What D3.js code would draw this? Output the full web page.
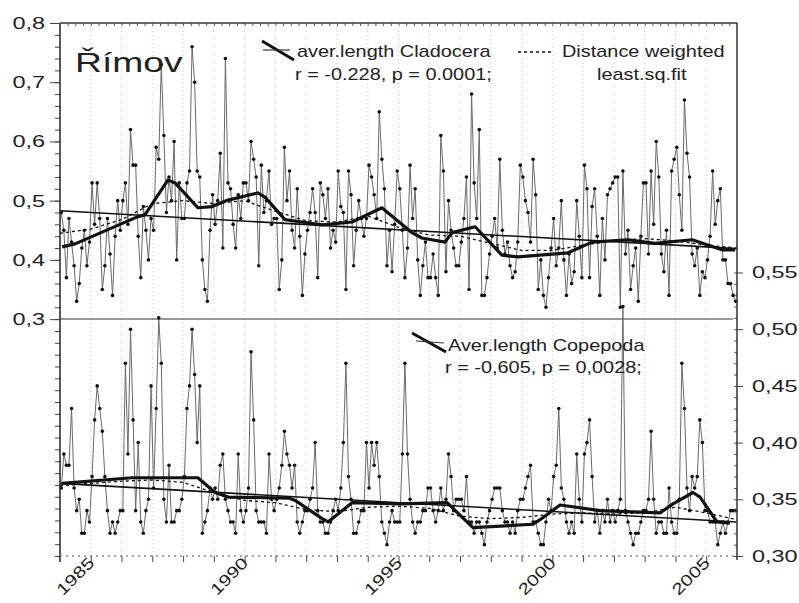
<!DOCTYPE html>
<html>
<head>
<meta charset="utf-8">
<script src="https://cdn.jsdelivr.net/npm/d3@7"></script>
<style>
  body { margin: 0; background: #fff; }
  svg { display: block; }
  text { font-family: "Liberation Sans", Arial, sans-serif; fill: #222; }
</style>
</head>
<body>
<svg id="chart" width="799" height="603"></svg>
<script>
// ---- data -------------------------------------------------------------
// one sample per month, January..December of every year
const sampleYears = [1984,1985,1986,1987,1988,1989,1990,1991,1992,1993,1994,
                     1995,1996,1997,1998,1999,2000,2001,2002,2003,2004,2005];
const samplesPerYear = 12;

// average body length of Cladocera (mm), left axis
const cladoceraLength = [
  0.48,0.45,0.37,0.47,0.43,0.39,0.33,0.36,0.42,0.45,0.39,0.43,
  0.53,0.46,0.53,0.47,0.35,0.39,0.47,0.41,0.34,0.44,0.50,0.45,
  0.50,0.53,0.46,0.62,0.56,0.56,0.44,0.37,0.49,0.45,0.40,0.47,
  0.45,0.59,0.57,0.73,0.61,0.48,0.54,0.50,0.60,0.40,0.53,0.47,
  0.47,0.53,0.55,0.76,0.70,0.55,0.54,0.40,0.35,0.33,0.45,0.51,
  0.46,0.50,0.58,0.42,0.74,0.53,0.52,0.46,0.42,0.51,0.47,0.53,
  0.53,0.50,0.60,0.57,0.54,0.39,0.56,0.48,0.50,0.55,0.46,0.47,
  0.47,0.35,0.40,0.59,0.50,0.55,0.45,0.42,0.52,0.44,0.34,0.41,
  0.45,0.48,0.52,0.48,0.37,0.53,0.51,0.47,0.52,0.42,0.45,0.43,
  0.55,0.49,0.48,0.35,0.55,0.51,0.39,0.45,0.50,0.47,0.44,0.47,
  0.56,0.54,0.51,0.47,0.65,0.57,0.52,0.39,0.45,0.38,0.46,0.55,
  0.52,0.45,0.37,0.42,0.56,0.47,0.52,0.40,0.34,0.39,0.43,0.37,
  0.37,0.41,0.37,0.34,0.61,0.55,0.38,0.50,0.45,0.42,0.39,0.39,
  0.43,0.47,0.54,0.35,0.68,0.53,0.47,0.62,0.34,0.34,0.37,0.41,
  0.44,0.47,0.42,0.57,0.45,0.41,0.43,0.39,0.37,0.38,0.43,0.56,
  0.54,0.50,0.48,0.43,0.57,0.51,0.35,0.40,0.34,0.32,0.37,0.42,
  0.47,0.39,0.42,0.50,0.40,0.34,0.41,0.36,0.38,0.50,0.44,0.37,
  0.56,0.52,0.37,0.49,0.52,0.44,0.34,0.47,0.40,0.51,0.52,0.53,
  0.54,0.54,0.32,0.55,0.41,0.45,0.35,0.39,0.42,0.33,0.44,0.53,
  0.53,0.41,0.55,0.46,0.60,0.54,0.41,0.38,0.45,0.34,0.55,0.57,
  0.59,0.51,0.45,0.67,0.58,0.54,0.41,0.39,0.42,0.34,0.38,0.37,
  0.40,0.44,0.55,0.46,0.50,0.52,0.40,0.40,0.36,0.36,0.34,0.33
];

// average body length of Copepoda (mm), right axis
const copepodaLength = [
  0.36,0.39,0.38,0.38,0.43,0.36,0.34,0.35,0.32,0.32,0.34,0.33,
  0.37,0.42,0.45,0.43,0.41,0.37,0.34,0.32,0.33,0.32,0.33,0.34,
  0.34,0.47,0.39,0.50,0.42,0.34,0.40,0.33,0.32,0.34,0.35,0.45,
  0.36,0.43,0.51,0.47,0.35,0.33,0.38,0.33,0.33,0.34,0.34,0.35,
  0.37,0.43,0.45,0.50,0.46,0.40,0.45,0.32,0.33,0.34,0.36,0.35,
  0.36,0.35,0.38,0.39,0.35,0.34,0.33,0.33,0.32,0.39,0.34,0.33,
  0.34,0.36,0.48,0.42,0.34,0.33,0.33,0.33,0.32,0.39,0.35,0.34,
  0.35,0.36,0.38,0.41,0.39,0.38,0.36,0.38,0.33,0.32,0.33,0.34,
  0.34,0.35,0.36,0.40,0.34,0.33,0.33,0.32,0.32,0.33,0.34,0.35,
  0.34,0.36,0.40,0.47,0.37,0.35,0.32,0.32,0.33,0.34,0.34,0.40,
  0.36,0.40,0.38,0.40,0.37,0.33,0.32,0.31,0.33,0.34,0.33,0.33,
  0.33,0.39,0.47,0.39,0.35,0.33,0.32,0.33,0.33,0.34,0.34,0.36,
  0.36,0.34,0.33,0.34,0.36,0.34,0.35,0.39,0.37,0.34,0.35,0.35,
  0.35,0.34,0.37,0.33,0.33,0.32,0.33,0.33,0.32,0.31,0.33,0.34,
  0.35,0.36,0.36,0.36,0.34,0.33,0.33,0.32,0.33,0.32,0.34,0.35,
  0.35,0.36,0.37,0.38,0.33,0.33,0.32,0.31,0.31,0.33,0.35,0.34,
  0.37,0.38,0.43,0.36,0.35,0.33,0.32,0.33,0.32,0.39,0.35,0.33,
  0.39,0.40,0.42,0.37,0.33,0.34,0.32,0.34,0.33,0.35,0.33,0.34,
  0.33,0.34,0.35,0.52,0.34,0.33,0.32,0.31,0.32,0.32,0.33,0.34,
  0.34,0.35,0.41,0.35,0.32,0.33,0.33,0.32,0.32,0.36,0.33,0.32,
  0.32,0.35,0.47,0.43,0.36,0.34,0.37,0.36,0.37,0.42,0.40,0.34,
  0.34,0.33,0.33,0.33,0.31,0.32,0.33,0.32,0.33,0.34,0.34,0.34
];

// running mean (thick line)
const cladoSmoothYears = [1984.07,1984.49,1986.53,1986.76,1987.51,1987.74,1988.48,1988.94,1989.46,
  1990.43,1990.66,1991.31,1991.86,1992.51,1993.49,1994.46,1995.44,1995.76,1996.51,1996.74,1997.49,
  1998.36,1998.88,2000.51,2001.29,2002.46,2003.34,2004.54,2005.51,2005.94];
const cladoSmoothValues = [0.422,0.427,0.473,0.476,0.535,0.530,0.488,0.490,0.501,
  0.513,0.506,0.468,0.464,0.459,0.464,0.488,0.446,0.437,0.430,0.446,0.456,
  0.408,0.405,0.412,0.430,0.434,0.428,0.434,0.417,0.417];

const copeSmoothYears = [1984.07,1986.34,1988.48,1989.04,1989.46,1991.47,1991.64,1992.52,1992.71,
  1993.49,1995.11,1996.58,1997.42,1999.37,1999.60,2000.25,2001.55,2003.50,2003.92,2004.57,
  2004.80,2005.35,2005.77];
const copeSmoothValues = [0.364,0.369,0.369,0.356,0.352,0.351,0.349,0.333,0.330,
  0.347,0.346,0.347,0.325,0.328,0.332,0.345,0.340,0.338,0.346,0.356,
  0.352,0.330,0.329];

// distance weighted least squares fit (dotted)
const dwlsYears = [1984,1985,1986,1987,1988,1989,1990,1991,1992,1993,1994,1995,
                   1996,1997,1998,1999,2000,2001,2002,2003,2004,2005,2006];
const cladoDwls = [0.445,0.452,0.468,0.495,0.500,0.495,0.500,0.482,0.466,0.464,0.474,0.455,
                   0.442,0.440,0.428,0.416,0.416,0.425,0.432,0.436,0.432,0.425,0.420];
const copeDwls  = [0.362,0.364,0.366,0.367,0.365,0.356,0.349,0.347,0.341,0.339,0.343,0.344,
                   0.342,0.335,0.333,0.334,0.337,0.338,0.337,0.338,0.343,0.338,0.332];

// linear trends
const trendYears = [1984, 2006];
const cladoTrend = [0.483, 0.419];
const copeTrend  = [0.364, 0.330];

// axis ticks
const leftTicks  = [0.3, 0.4, 0.5, 0.6, 0.7, 0.8];
const rightTicks = [0.30, 0.35, 0.40, 0.45, 0.50, 0.55];
const yearLabels = [1985, 1990, 1995, 2000, 2005];

// ---- layout ------------------------------------------------------------
const svg = d3.select("#chart");
const X0 = 60, X1 = 737, Y0 = 23, Y1 = 556;

const x  = d3.scaleLinear().domain([1984, 2006]).range([X0, X1]);
const yL = d3.scaleLinear().domain([-0.1, 0.8]).range([Y1, Y0]);
const yR = d3.scaleLinear().domain([0.30, 0.77]).range([Y1, Y0]);

const comma = f => d => d3.format(f)(d).replace(".", ",");

function stretch(sel, k) {
  sel.each(function () {
    const w = this.getComputedTextLength();
    if (w > 0) {
      this.setAttribute("textLength", w * k);
      this.setAttribute("lengthAdjust", "spacingAndGlyphs");
    }
  });
}

const sampleDates = [];
sampleYears.forEach(yr => { for (let m = 0; m < samplesPerYear; m++) sampleDates.push(yr + (m + 0.5) / samplesPerYear); });
const clado = sampleDates.map((t, i) => [t, cladoceraLength[i]]);
const cope  = sampleDates.map((t, i) => [t, copepodaLength[i]]);

// yearly vertical grid
svg.append("g").selectAll("line")
  .data(d3.range(1985, 2006))
  .join("line")
  .attr("x1", d => x(d)).attr("x2", d => x(d))
  .attr("y1", Y0).attr("y2", Y1)
  .attr("stroke", "#c4c4c4").attr("stroke-width", 1).attr("stroke-dasharray", "1,3");

// divider between the two panels
svg.append("line")
  .attr("x1", X0).attr("x2", X1 - 4)
  .attr("y1", yL(0.3)).attr("y2", yL(0.3))
  .attr("stroke", "#777").attr("stroke-width", 1.5);

function drawSeries(data, y) {
  const line = d3.line().x(d => x(d[0])).y(d => y(d[1]));
  svg.append("path").datum(data).attr("d", line)
    .attr("fill", "none").attr("stroke", "#6a6a6a").attr("stroke-width", 1);
  svg.append("g").selectAll("circle").data(data).join("circle")
    .attr("cx", d => x(d[0])).attr("cy", d => y(d[1])).attr("r", 1.8)
    .attr("fill", "#111");
}
function drawFit(years, values, y, width, dash) {
  const line = d3.line().x(d => x(d[0])).y(d => y(d[1]));
  svg.append("path").datum(years.map((t, i) => [t, values[i]])).attr("d", line)
    .attr("fill", "none").attr("stroke", "#111").attr("stroke-width", width)
    .attr("stroke-linejoin", "round")
    .attr("stroke-dasharray", dash || null);
}

drawSeries(clado, yL);
drawSeries(cope, yR);
drawFit(trendYears, cladoTrend, yL, 1.6);
drawFit(trendYears, copeTrend, yR, 1.6);
drawFit(dwlsYears, cladoDwls, yL, 1.3, "3,3");
drawFit(dwlsYears, copeDwls, yR, 1.3, "3,3");
drawFit(cladoSmoothYears, cladoSmoothValues, yL, 3.2);
drawFit(copeSmoothYears, copeSmoothValues, yR, 3.2);

// ---- axes -------------------------------------------------------------
// left axis: minor ticks then labelled major ticks
svg.append("g").attr("transform", `translate(${X0},0)`)
  .call(d3.axisLeft(yL).tickValues(d3.range(-10, 81, 2).map(v => v / 100)).tickSize(5).tickFormat(""))
  .call(g => g.select(".domain").remove())
  .call(g => g.selectAll("line").attr("stroke", "#444"));
const gl = svg.append("g").attr("transform", `translate(${X0},0)`)
  .call(d3.axisLeft(yL).tickValues(leftTicks).tickSize(10).tickPadding(5).tickFormat(comma(".1f")));
gl.attr("font-family", null).attr("font-size", 17);
gl.select(".domain").attr("stroke", "#222").attr("stroke-width", 1.5).attr("d", `M0,${Y0}V${Y1 + 6}`);
gl.selectAll("line").attr("stroke", "#444");
stretch(gl.selectAll("text"), 1.38);

// right axis
svg.append("g").attr("transform", `translate(${X1},0)`)
  .call(d3.axisLeft(yR).tickValues(d3.range(30, 56, 1).map(v => v / 100)).tickSize(3).tickFormat(""))
  .call(g => g.select(".domain").remove())
  .call(g => g.selectAll("line").attr("stroke", "#555"));
const gr = svg.append("g").attr("transform", `translate(${X1},0)`)
  .call(d3.axisRight(yR).tickValues(rightTicks).tickSize(6).tickPadding(9).tickFormat(comma(".2f")));
gr.attr("font-family", null).attr("font-size", 17);
gr.select(".domain").attr("stroke", "#333").attr("stroke-width", 1.5).attr("d", `M0,${Y0}V${Y1 + 4}`);
gr.selectAll("line").attr("stroke", "#444");
stretch(gr.selectAll("text"), 1.38);

// top frame with small ticks
const gt = svg.append("g").attr("transform", `translate(0,${Y0})`)
  .call(d3.axisBottom(x).tickValues(d3.range(1984, 2006.01, 0.25)).tickSize(3).tickFormat(""));
gt.select(".domain").attr("stroke", "#333").attr("stroke-width", 1.5).attr("d", `M${X0},0H${X1}`);
gt.selectAll("line").attr("stroke", "#555");

// bottom axis
const gb = svg.append("g").attr("transform", `translate(0,${Y1})`)
  .call(d3.axisBottom(x).tickValues(d3.range(1985, 2006)).tickSize(6)
    .tickFormat(d => yearLabels.includes(d) ? d : ""));
gb.attr("font-family", null).attr("font-size", 16);
gb.select(".domain").attr("stroke", "#888").attr("stroke-width", 1.5).attr("stroke-dasharray", "2,4")
  .attr("d", `M${X0},0H${X1}`);
gb.selectAll("line").attr("stroke", "#444");
gb.selectAll("text")
  .attr("x", 0).attr("y", 0).attr("dy", 0)
  .attr("text-anchor", "end")
  .attr("transform", "translate(4,8) rotate(-45)");
stretch(gb.selectAll("text"), 1.28);

// ---- titles and legends -----------------------------------------------
const title = svg.append("text").attr("x", 75).attr("y", 72)
  .attr("font-size", 28).text("Římov");
stretch(title, 1.33);

function legendText(tx, ty, s) {
  const t = svg.append("text").attr("x", tx).attr("y", ty).attr("font-size", 17).text(s);
  stretch(t, 1.17);
  return t;
}

// Cladocera legend
svg.append("line").attr("x1", 262).attr("y1", 41).attr("x2", 294).attr("y2", 60)
  .attr("stroke", "#111").attr("stroke-width", 3);
svg.append("line").attr("x1", 263).attr("y1", 50).attr("x2", 290).attr("y2", 50)
  .attr("stroke", "#333").attr("stroke-width", 1.2);
legendText(297, 57, "aver.length Cladocera");
legendText(295, 80, "r = -0.228, p = 0.0001;");

// smoothing legend
svg.append("line").attr("x1", 518).attr("y1", 52).attr("x2", 554).attr("y2", 52)
  .attr("stroke", "#111").attr("stroke-width", 1.3).attr("stroke-dasharray", "3,3");
legendText(562, 57, "Distance weighted");
legendText(597, 80, "least.sq.fit");

// Copepoda legend
svg.append("line").attr("x1", 412).attr("y1", 333).attr("x2", 446).attr("y2", 352)
  .attr("stroke", "#111").attr("stroke-width", 3);
svg.append("line").attr("x1", 416).attr("y1", 341).attr("x2", 444).attr("y2", 343)
  .attr("stroke", "#333").attr("stroke-width", 1.2);
legendText(448, 351, "Aver.length Copepoda");
legendText(445, 373, "r = -0,605, p = 0,0028;");
</script>
</body>
</html>
